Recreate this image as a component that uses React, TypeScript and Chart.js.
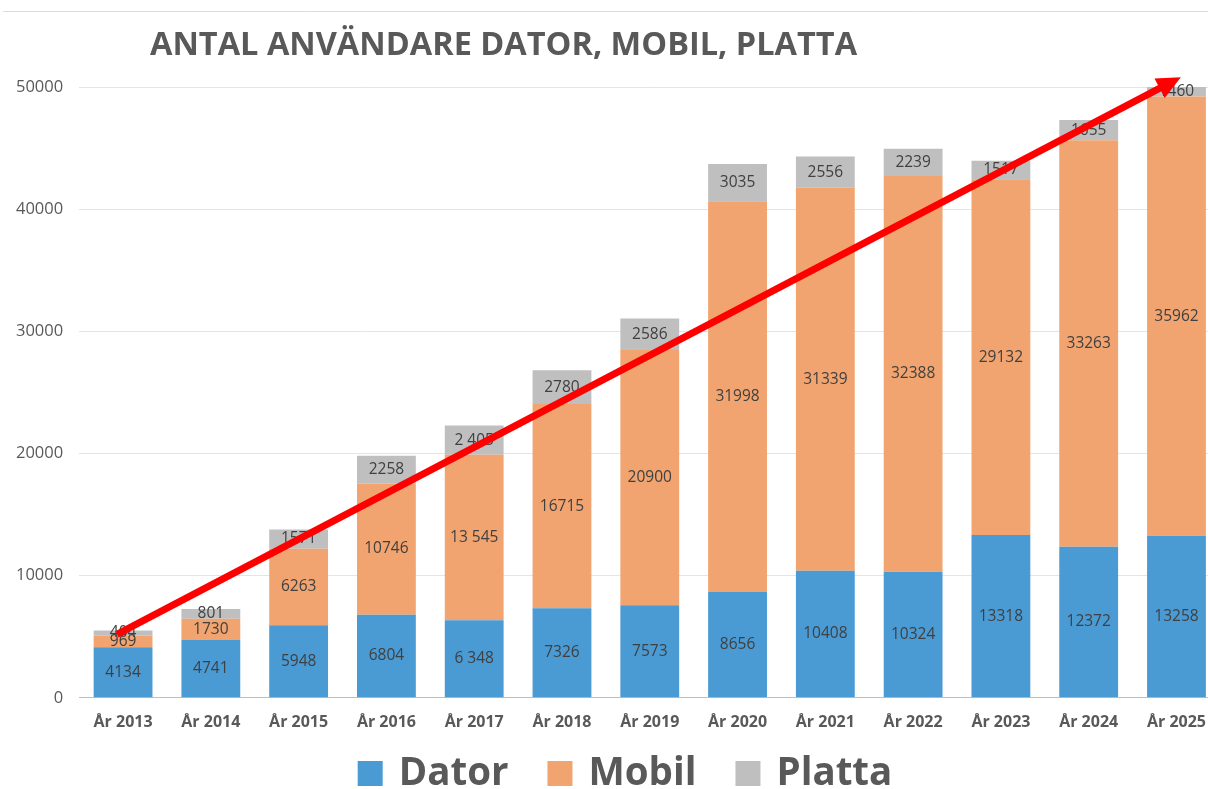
import React, { useEffect, useRef } from "react";
import { Chart, registerables } from "chart.js";

Chart.register(...registerables);

const years = ["År 2013", "År 2014", "År 2015", "År 2016", "År 2017", "År 2018", "År 2019", "År 2020", "År 2021", "År 2022", "År 2023", "År 2024", "År 2025"];
const dator = [4134, 4741, 5948, 6804, 6348, 7326, 7573, 8656, 10408, 10324, 13318, 12372, 13258];
const mobil = [969, 1730, 6263, 10746, 13545, 16715, 20900, 31998, 31339, 32388, 29132, 33263, 35962];
const platta = [404, 801, 1571, 2258, 2405, 2780, 2586, 3035, 2556, 2239, 1517, 1655, 1460];
const yTicks = [0, 10000, 20000, 30000, 40000, 50000];
const spacedYears = ["År 2017"];
const seriesNames = ["Dator", "Mobil", "Platta"];
const seriesColors = ["#4a9ad4", "#f1a46f", "#bfbfbf"];
const chartTitle = "ANTAL ANVÄNDARE DATOR, MOBIL, PLATTA";
// trend arrow: from (category index, value) to (category index, value)
const trendFrom = [-0.07, 5200];
const trendTo = [12.05, 50800];

const FONT = "'Open Sans', 'Liberation Sans', sans-serif";
const W = 1221;
const H = 789;

function fmt(v: number, i: number): string {
  const s = String(v);
  if (spacedYears.includes(years[i])) return s.replace(/\B(?=(\d{3})+(?!\d))/g, " ");
  return s;
}

const decorPlugin = {
  id: "decor",
  beforeDraw(chart: any) {
    const { ctx } = chart;
    ctx.save();
    ctx.strokeStyle = "#dcdcdc";
    ctx.lineWidth = 1;
    ctx.beginPath();
    ctx.moveTo(3, 11.5);
    ctx.lineTo(W, 11.5);
    ctx.stroke();
    ctx.restore();
  },
  afterDraw(chart: any) {
    const { ctx } = chart;
    ctx.save();
    // title
    ctx.font = `bold 32.5px ${FONT}`;
    ctx.fillStyle = "#595959";
    ctx.textAlign = "left";
    ctx.textBaseline = "middle";
    ctx.fillText(chartTitle, 150, 46);
    // legend
    ctx.font = `bold 38.5px ${FONT}`;
    const box = 25, gap = 16, itemGap = 39;
    const widths = seriesNames.map((n) => ctx.measureText(n).width);
    const total = widths.reduce((a, b) => a + b, 0) + seriesNames.length * (box + gap) + itemGap * (seriesNames.length - 1);
    let x = 625 - total / 2;
    const cy = 773.5;
    seriesNames.forEach((n, i) => {
      ctx.fillStyle = seriesColors[i];
      ctx.fillRect(x, cy - box / 2, box, box);
      ctx.fillStyle = "#595959";
      ctx.fillText(n, x + box + gap, cy + 1);
      x += box + gap + widths[i] + itemGap;
    });
    // arrow
    const xs = chart.scales.x, ys = chart.scales.y;
    const x1 = xs.getPixelForValue(trendFrom[0]);
    const y1 = ys.getPixelForValue(trendFrom[1]);
    const x2 = xs.getPixelForValue(trendTo[0]);
    const y2 = ys.getPixelForValue(trendTo[1]);
    const len = Math.hypot(x2 - x1, y2 - y1);
    const dx = (x2 - x1) / len, dy = (y2 - y1) / len;
    const headL = 24, headW = 11;
    const bx = x2 - dx * headL, by = y2 - dy * headL;
    ctx.strokeStyle = "#ff0000";
    ctx.fillStyle = "#ff0000";
    ctx.lineWidth = 7;
    ctx.beginPath();
    ctx.moveTo(x1, y1);
    ctx.lineTo(bx + dx * 2, by + dy * 2);
    ctx.stroke();
    ctx.beginPath();
    ctx.moveTo(x2, y2);
    ctx.lineTo(bx - dy * headW, by + dx * headW);
    ctx.lineTo(bx + dy * headW, by - dx * headW);
    ctx.closePath();
    ctx.fill();
    ctx.restore();
  },
};

const labelPlugin = {
  id: "segLabels",
  afterDatasetsDraw(chart: any) {
    const { ctx, chartArea } = chart;
    ctx.save();
    ctx.font = `15.5px ${FONT}`;
    ctx.fillStyle = "#404040";
    ctx.textAlign = "center";
    ctx.textBaseline = "middle";
    chart.data.datasets.forEach((ds: any, di: number) => {
      const meta = chart.getDatasetMeta(di);
      meta.data.forEach((bar: any, i: number) => {
        const p = bar.getProps(["x", "y", "base"], true);
        const top = Math.max(Math.min(p.y, p.base), chartArea.top);
        const bottom = Math.min(Math.max(p.y, p.base), chartArea.bottom);
        ctx.fillText(fmt(ds.data[i], i), p.x, (top + bottom) / 2);
      });
    });
    ctx.restore();
  },
};

export default function App() {
  const ref = useRef<HTMLCanvasElement | null>(null);
  useEffect(() => {
    if (!ref.current) return;
    Chart.defaults.font.family = FONT;
    const chart = new Chart(ref.current, {
      type: "bar",
      data: {
        labels: years,
        datasets: [dator, mobil, platta].map((d, i) => ({
          label: seriesNames[i],
          data: d,
          backgroundColor: seriesColors[i],
          borderWidth: 0,
          categoryPercentage: 1,
          barPercentage: 0.67,
        })),
      },
      options: {
        animation: false,
        responsive: false,
        layout: { padding: { top: 87, left: 0, right: 0, bottom: 42 } },
        plugins: { legend: { display: false }, title: { display: false }, tooltip: { enabled: false } },
        scales: {
          x: {
            stacked: true,
            grid: { display: false, drawTicks: false },
            border: { color: "#bfbfbf", width: 1 },
            ticks: { color: "#595959", font: { size: 16, weight: "bold" }, padding: 15, maxRotation: 0, autoSkip: false },
          },
          y: {
            stacked: true,
            min: 0,
            max: 50000,
            afterBuildTicks: (s: any) => {
              s.ticks = yTicks.map((v) => ({ value: v }));
            },
            ticks: { color: "#595959", font: { size: 16.5 }, padding: 16, callback: (v: any) => String(v) },
            grid: { color: "#e4e4e4", drawTicks: false },
            border: { display: false },
          },
        },
      },
      plugins: [labelPlugin, decorPlugin],
    });
    return () => chart.destroy();
  }, []);
  return (
    <div style={{ position: "fixed", left: 0, top: 0, width: 1208, height: 789, overflow: "hidden", background: "#fff" }}>
      <canvas ref={ref} width={W} height={H} style={{ display: "block", width: W, height: H }} />
    </div>
  );
}
